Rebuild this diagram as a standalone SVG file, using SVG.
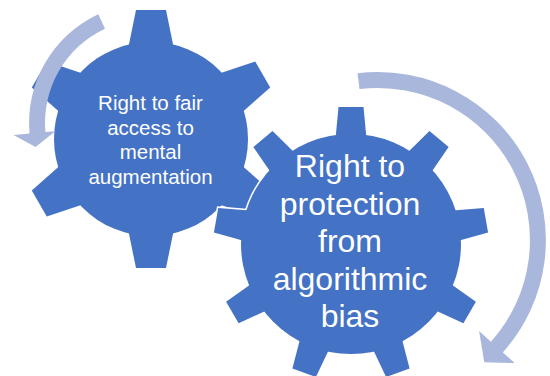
<svg xmlns="http://www.w3.org/2000/svg" xmlns:xlink="http://www.w3.org/1999/xlink" width="550" height="376" viewBox="0 0 550 376">
  <style>
    .gear { fill: #4472C4; }
    .gear-outline { fill: #4472C4; stroke: #FFFFFF; stroke-width: 3; stroke-linejoin: miter; }
    .arrow { fill: #A9B7DC; stroke: none; }
    .label { fill: #FFFFFF; font-family: "Liberation Sans", Arial, sans-serif; text-anchor: middle; }
  </style>
  <defs>
    <g id="gear6">
      <circle cx="0" cy="0" r="97"/>
      <polygon points="-24,-85 -15,-129 15,-129 24,-85"/>
      <polygon points="-24,-85 -15,-129 15,-129 24,-85" transform="rotate(60)"/>
      <polygon points="-24,-85 -15,-129 15,-129 24,-85" transform="rotate(120)"/>
      <polygon points="-24,-85 -15,-129 15,-129 24,-85" transform="rotate(180)"/>
      <polygon points="-24,-85 -15,-129 15,-129 24,-85" transform="rotate(240)"/>
      <polygon points="-24,-85 -15,-129 15,-129 24,-85" transform="rotate(300)"/>
    </g>
    <g id="gear9">
      <circle cx="0" cy="0" r="110"/>
      <polygon points="-16,-100 -12.5,-137 12.5,-137 16,-100"/>
      <polygon points="-16,-100 -12.5,-137 12.5,-137 16,-100" transform="rotate(40)"/>
      <polygon points="-16,-100 -12.5,-137 12.5,-137 16,-100" transform="rotate(80)"/>
      <polygon points="-16,-100 -12.5,-137 12.5,-137 16,-100" transform="rotate(120)"/>
      <polygon points="-16,-100 -12.5,-137 12.5,-137 16,-100" transform="rotate(160)"/>
      <polygon points="-16,-100 -12.5,-137 12.5,-137 16,-100" transform="rotate(200)"/>
      <polygon points="-16,-100 -12.5,-137 12.5,-137 16,-100" transform="rotate(240)"/>
      <polygon points="-16,-100 -12.5,-137 12.5,-137 16,-100" transform="rotate(280)"/>
      <polygon points="-16,-100 -12.5,-137 12.5,-137 16,-100" transform="rotate(320)"/>
    </g>
  </defs>

  <g id="gear-left">
    <use xlink:href="#gear6" href="#gear6" class="gear-outline" transform="translate(151,139)"/>
    <use xlink:href="#gear6" href="#gear6" class="gear" transform="translate(151,139)"/>
    <text class="label" font-size="20.5" x="150.5" y="110">Right to fair</text>
    <text class="label" font-size="20.5" x="150.5" y="134.5">access to</text>
    <text class="label" font-size="20.5" x="150.5" y="159">mental</text>
    <text class="label" font-size="20.5" x="150.5" y="183.5">augmentation</text>
  </g>

  <g id="gear-right">
    <use xlink:href="#gear9" href="#gear9" class="gear-outline" transform="translate(351,244)"/>
    <use xlink:href="#gear9" href="#gear9" class="gear" transform="translate(351,244)"/>
    <text class="label" font-size="32" x="350" y="177">Right to</text>
    <text class="label" font-size="32" x="350" y="214.5">protection</text>
    <text class="label" font-size="32" x="350" y="252">from</text>
    <text class="label" font-size="32" x="350" y="289.5">algorithmic</text>
    <text class="label" font-size="32" x="350" y="327">bias</text>
  </g>

  <g id="connectors">
    <path class="arrow" d="M 98.3,14.2 A 120 120 0 0 0 29.5,133.5 L 13.5,134.9 L 35.5,147.1 L 55.4,131.2 L 45.4,132.1 A 104 104 0 0 1 105.0,28.7 Z"/>
    <path class="arrow" d="M 357.5,73.3 A 168 168 0 0 1 502.8,352.4 L 514.7,363.1 L 484.3,362.3 L 479.1,331.0 L 490.9,341.7 A 152 152 0 0 0 359.5,89.1 Z"/>
  </g>
</svg>
